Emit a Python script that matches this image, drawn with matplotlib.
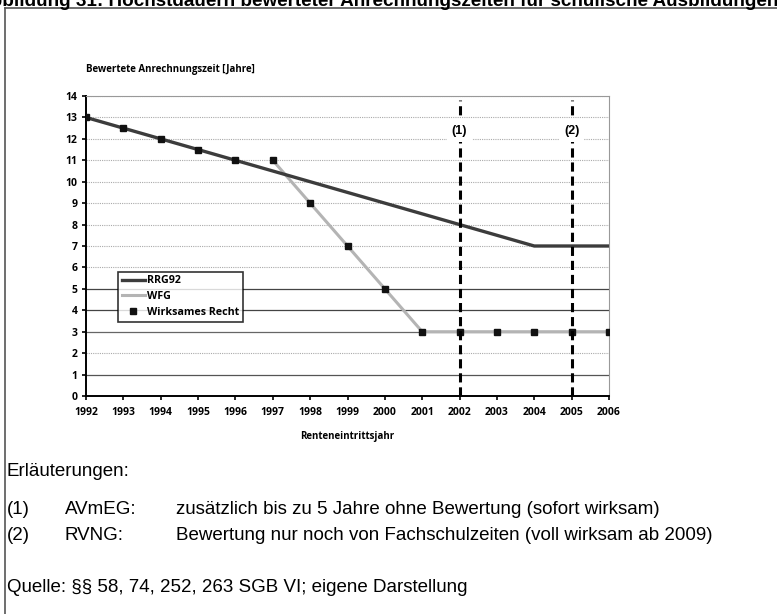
import matplotlib.pyplot as plt
from matplotlib.lines import Line2D

# Data
years = list(range(1992, 2007))
rrg92_years = [1992, 2004, 2006]
rrg92_values = [13, 7, 7]
wfg_years = [1997, 1998, 1999, 2000, 2001, 2002, 2003, 2004, 2005, 2006]
wfg_values = [11, 9, 7, 5, 3, 3, 3, 3, 3, 3]
recht_years = years
recht_values = [13, 12.5, 12, 11.5, 11, 11, 9, 7, 5, 3, 3, 3, 3, 3, 3]
reform_years = [2002, 2005]
reform_labels = ['(1)', '(2)']

chart_font = ['Open Sans', 'DejaVu Sans']
note_font = ['Liberation Sans Narrow', 'Liberation Sans', 'DejaVu Sans']
W, H = 777, 614

fig = plt.figure(figsize=(7.77, 6.14), dpi=100)

# outer frame (left and top edge only visible)
fig.add_artist(Line2D([5 / W, 5 / W], [0, 1 - 8 / H], color='#555555', lw=1.2))
fig.add_artist(Line2D([5 / W, 1], [1 - 8 / H, 1 - 8 / H], color='#555555', lw=1.2))

# heading, cut off at the very top like in the scan
fig.text(-23 / W, 1 - 6 / H, 'Abbildung 31: Höchstdauern bewerteter Anrechnungszeiten für schulische Ausbildungen',
         ha='left', va='baseline', fontsize=13.6, fontweight='bold', family=['Liberation Sans', 'DejaVu Sans'])

ax = fig.add_axes([86 / W, 1 - 396 / H, 523 / W, 300 / H])
ax.set_xlim(1992, 2006)
ax.set_ylim(0, 14)

# horizontal grid lines, some look darker in the scan
grid_colors = {1: '#555555', 3: '#666666', 4: '#444444', 5: '#444444'}
for v in range(1, 15):
    ax.axhline(v, color=grid_colors.get(v, '#aaaaaa'), lw=0.9 if v in grid_colors else 0.8,
               ls='-' if v in grid_colors else (0, (1, 1)), zorder=1)

ax.plot(rrg92_years, rrg92_values, color='#3c3c3c', lw=2.4, zorder=3, label='RRG92')
ax.plot(wfg_years, wfg_values, color='#b4b4b4', lw=2.2, zorder=2, label='WFG')
ax.plot(recht_years, recht_values, ls='none', marker='s', ms=5, color='#111111',
        zorder=4, label='Wirksames Recht')

for yr, lab in zip(reform_years, reform_labels):
    ax.plot([yr, yr], [0, 13.8], color='black', lw=2.2, ls=(0, (3, 1.6)), zorder=5)
    ax.text(yr, 12.35, lab, ha='center', va='center', fontsize=9, fontweight='bold',
            family=['Liberation Sans', 'DejaVu Sans'], zorder=6,
            bbox=dict(facecolor='white', edgecolor='none', pad=3.5))

for side in ['top', 'right']:
    ax.spines[side].set_color('#999999')
    ax.spines[side].set_linestyle((0, (1, 1)))
ax.spines['left'].set_linewidth(1.4)
ax.spines['bottom'].set_linewidth(1.4)

ax.set_xticks(years)
ax.set_yticks(range(0, 15))
ax.tick_params(length=3, width=1.2, labelsize=7.5, pad=3)
for lbl in ax.get_xticklabels() + ax.get_yticklabels():
    lbl.set_fontweight('bold')
    lbl.set_family(chart_font)
ax.tick_params(axis='x', pad=5)

ax.text(0, 1.07, 'Bewertete Anrechnungszeit [Jahre]', transform=ax.transAxes,
        fontsize=7, fontweight='bold', family=chart_font, ha='left', va='bottom')
ax.set_xlabel('Renteneintrittsjahr', fontsize=7, fontweight='bold', family=chart_font, labelpad=9)

leg = ax.legend(loc='upper left', bbox_to_anchor=(0.061, 0.415), frameon=True, fancybox=False,
                edgecolor='black', prop={'family': chart_font, 'weight': 'bold', 'size': 7.7},
                handlelength=2.2, handletextpad=0.2, borderpad=0.35, labelspacing=0.45,
                borderaxespad=0)
leg.get_frame().set_linewidth(1.2)

# notes below the chart
fs = 13.5
fig.text(7 / W, 1 - 471 / H, 'Erläuterungen:', fontsize=fs, family=note_font, va='center')
fig.text(7 / W, 1 - 510 / H, '(1)', fontsize=fs, family=note_font, va='center')
fig.text(65 / W, 1 - 510 / H, 'AVmEG:', fontsize=fs, family=note_font, va='center')
fig.text(176 / W, 1 - 510 / H, 'zusätzlich bis zu 5 Jahre ohne Bewertung (sofort wirksam)',
         fontsize=fs, family=note_font, va='center')
fig.text(7 / W, 1 - 535 / H, '(2)', fontsize=fs, family=note_font, va='center')
fig.text(65 / W, 1 - 535 / H, 'RVNG:', fontsize=fs, family=note_font, va='center')
fig.text(176 / W, 1 - 535 / H, 'Bewertung nur noch von Fachschulzeiten (voll wirksam ab 2009)',
         fontsize=fs, family=note_font, va='center')
fig.text(7 / W, 1 - 587 / H, 'Quelle: §§ 58, 74, 252, 263 SGB VI; eigene Darstellung',
         fontsize=fs, family=note_font, va='center')

fig.savefig('out.png', dpi=100)
